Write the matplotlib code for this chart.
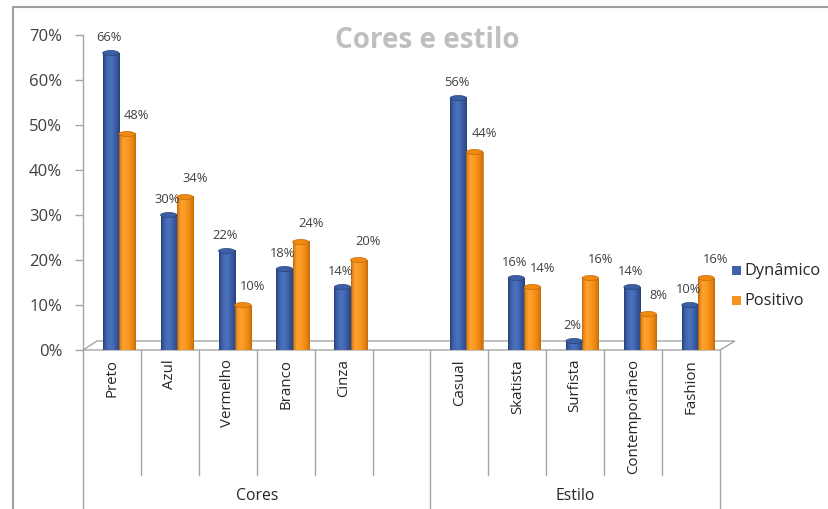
import matplotlib
matplotlib.use("Agg")
import matplotlib.pyplot as plt
import numpy as np
from matplotlib.patches import Rectangle, Polygon, Ellipse
from matplotlib.colors import LinearSegmentedColormap

plt.rcParams['font.family'] = ['Open Sans', 'DejaVu Sans']

# ---- data ----
categories = ["Preto", "Azul", "Vermelho", "Branco", "Cinza", "",
              "Casual", "Skatista", "Surfista", "Contemporâneo", "Fashion"]
groups = ["Cores", "Estilo"]
group_sizes = [6, 5]
dynamico = [0.66, 0.30, 0.22, 0.18, 0.14, None, 0.56, 0.16, 0.02, 0.14, 0.10]
positivo = [0.48, 0.34, 0.10, 0.24, 0.20, None, 0.44, 0.14, 0.16, 0.08, 0.16]
series_names = ["Dynâmico", "Positivo"]
yticks = [0, 0.1, 0.2, 0.3, 0.4, 0.5, 0.6, 0.7]
ytick_labels = ["0%", "10%", "20%", "30%", "40%", "50%", "60%", "70%"]

W, H = 829, 509
fig = plt.figure(figsize=(W / 100, H / 100), dpi=100)
fig.patch.set_facecolor("white")

def fx(px):
    return px / W

def fy(py):
    return 1 - py / H

# axes area: x 83..720 px, y 35..350 px
AX_L, AX_R, AX_T, AX_B = 83, 720, 35, 350
ax = fig.add_axes([fx(AX_L), fy(AX_B), (AX_R - AX_L) / W, (AX_B - AX_T) / H])
ax.patch.set_visible(False)
n = len(categories)
ax.set_xlim(0, n)
ax.set_ylim(0, 0.7)

def ax_px(px, py):
    return ((px - AX_L) / (AX_R - AX_L), (AX_B - py) / (AX_B - AX_T))

# floor (3D base)
floor = Polygon([ax_px(83, 350), ax_px(97, 341), ax_px(735, 341), ax_px(720, 350)],
                closed=True, transform=ax.transAxes, facecolor="white",
                edgecolor="#A6A6A6", linewidth=1.0, clip_on=False, zorder=0.5)
ax.add_patch(floor)

blue_cmap = LinearSegmentedColormap.from_list(
    "b", ["#2B4683", "#4468B4", "#4C72BE", "#3B5CA4", "#2A4580"])
orange_cmap = LinearSegmentedColormap.from_list(
    "o", ["#D2760C", "#FFA232", "#FB9A22", "#EE8A14", "#CC700A"])
grad = np.linspace(0, 1, 64).reshape(1, -1)

bw = 0.28
px_per_unit_y = (AX_B - AX_T) / 0.7
cap_h = 5 / px_per_unit_y

def cylinder(xc, v, cmap, top_col, edge_col):
    ax.imshow(grad, cmap=cmap, extent=[xc - bw / 2, xc + bw / 2, 0, v],
              aspect="auto", zorder=2, interpolation="bicubic")
    ax.add_patch(Rectangle((xc - bw / 2, 0), bw, v, fill=False,
                           edgecolor=edge_col, linewidth=0.5, zorder=2.1))
    ax.add_patch(Ellipse((xc, v), bw, cap_h, facecolor=top_col,
                         edgecolor=edge_col, linewidth=0.5, zorder=2.2))
    ax.add_patch(Ellipse((xc, 0), bw, cap_h, facecolor=cmap(0.5),
                         edgecolor="none", zorder=1.9))

label_kw = dict(fontsize=9.3, color="#404040", ha="center", va="bottom", zorder=5)
for i in range(n):
    d, p = dynamico[i], positivo[i]
    if d is not None:
        xb = i + 0.48
        cylinder(xb, d, blue_cmap, "#3C5FA6", "#2A4278")
        ax.text(xb - 0.03, d + 9 / px_per_unit_y, f"{round(d * 100)}%", **label_kw)
    if p is not None:
        xo = i + 0.76
        cylinder(xo, p, orange_cmap, "#F08A10", "#C06A08")
        ax.text(xo + 0.17, p + 12 / px_per_unit_y, f"{round(p * 100)}%", **label_kw)

ax.set_xlim(0, n)
ax.set_ylim(0, 0.7)

# y axis
for s in ["top", "right", "bottom"]:
    ax.spines[s].set_visible(False)
ax.spines["left"].set_color("#A6A6A6")
ax.spines["left"].set_linewidth(1.0)
ax.set_yticks(yticks)
ax.set_yticklabels(ytick_labels)
ax.tick_params(axis="y", length=6, width=1.0, color="#A6A6A6",
               labelsize=12, labelcolor="#404040", pad=9)
ax.set_xticks([])

# category axis: dividers and labels
slot_px = (AX_R - AX_L) / n
bounds = [0]
for gs in group_sizes:
    bounds.append(bounds[-1] + gs)
for k in range(n + 1):
    xpx = AX_L + k * slot_px
    bottom = 520 if k in bounds else 475
    fig.add_artist(plt.Line2D([fx(xpx), fx(xpx)], [fy(350), fy(bottom)],
                              color="#A6A6A6", linewidth=1.0))
for i, c in enumerate(categories):
    if c:
        xpx = AX_L + (i + 0.5) * slot_px
        fig.text(fx(xpx), fy(359), c, rotation=90, ha="center", va="top",
                 fontsize=10.8, color="#262626")
for g, (a, b) in zip(groups, zip(bounds[:-1], bounds[1:])):
    xpx = AX_L + (a + b) / 2 * slot_px
    fig.text(fx(xpx), fy(496), g, ha="center", va="center",
             fontsize=11.3, color="#262626")

# title
fig.text(fx(427), fy(40), "Cores e estilo", ha="center", va="center",
         fontsize=20, fontweight="bold", color="#BFBFBF")

# legend
leg_cols = ["#3F60AA", "#F7931E"]
for j, (name, col) in enumerate(zip(series_names, leg_cols)):
    ypx = 271 + j * 30
    fig.add_artist(Rectangle((fx(732), fy(ypx + 4)), 9 / W, 9 / H,
                             facecolor=col, edgecolor="none",
                             transform=fig.transFigure))
    fig.text(fx(744), fy(ypx), name, ha="left", va="center",
             fontsize=11.8, color="#262626")

# chart border
fig.add_artist(Rectangle((fx(13), fy(520)), (W + 10 - 13) / W, (520 - 7) / H,
                         fill=False, edgecolor="#A0A0A0", linewidth=1.5,
                         transform=fig.transFigure))

fig.savefig("out.png", dpi=100)
